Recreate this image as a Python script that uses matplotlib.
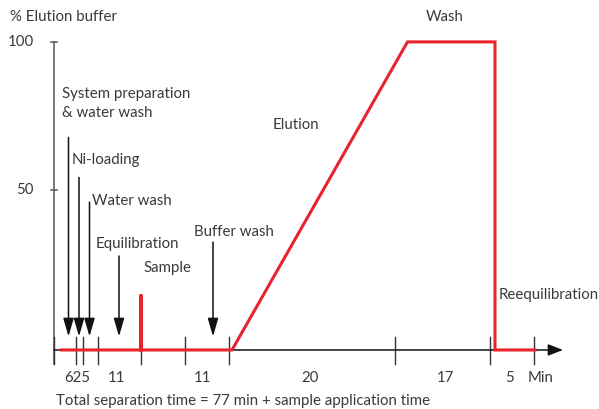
import matplotlib
matplotlib.use('Agg')
import matplotlib.pyplot as plt

plt.rcParams['font.family'] = ['Lato', 'DejaVu Sans']

# schematic time axis (not to scale), boundaries of each step
tick_pos = [0, 22, 28.5, 43.5, 87, 130.5, 174.5, 341, 436, 480]
seg_labels = ['625', '11', '11', '20', '17', '5']
seg_label_x = [23, 63, 149, 256, 391, 456]

# % elution buffer profile
profile_x = [7.5, 87, 87, 87, 178, 353.5, 441, 441, 481]
profile_y = [0, 0, 18, 0, 0, 100, 100, 0, 0]

# step arrows: x, top of arrow, label, label position
arrow_x = [14.5, 25, 35.5, 65, 159]
arrow_top = [69, 56, 48, 30.5, 35]
step_labels = ['System preparation\n& water wash', 'Ni-loading', 'Water wash',
               'Equilibration', 'Buffer wash']
step_label_xy = [(8, 80), (18, 61.6), (38, 48.3), (42, 34.3), (140, 38.4)]

other_labels = ['Sample', 'Elution', 'Wash', 'Reequilibration']
other_label_xy = [(89, 26.5), (219, 73), (372, 108), (445, 17.8)]

y_ticks = [100, 50]
y_tick_pix = [100, 52]

text_col = '#3a3a3a'
red = '#e8232b'
fs = 10.8

fig = plt.figure(figsize=(5.99, 4.09), dpi=100)
ax = fig.add_axes([0, 0, 1, 1])
ax.set_xlim(-54, 545)
ax.set_ylim(-19.16, 113.6)
ax.axis('off')

# y axis
ax.plot([0, 0], [-4.4, 100], color='#555555', lw=1.1)
for t, p in zip(y_ticks, y_tick_pix):
    ax.plot([-2.7, 2.7], [p, p], color='#555555', lw=1.1)
    ax.text(-20, p, str(t), ha='right', va='center', fontsize=fs, color=text_col)
ax.text(-44, 108.2, '% Elution buffer', ha='left', va='center', fontsize=fs, color=text_col)

# x axis with arrow
ax.annotate('', xy=(509, 0), xytext=(0, 0),
            arrowprops=dict(arrowstyle='-|>,head_length=0.9,head_width=0.35',
                            mutation_scale=10, color='#111111', lw=1.1,
                            shrinkA=0, shrinkB=0))
for p in tick_pos:
    ax.plot([p, p], [-4.4, 4.2], color='#333333', lw=1.0)
for lab, lx in zip(seg_labels, seg_label_x):
    ax.text(lx, -9, lab, ha='center', va='center', fontsize=fs, color=text_col)
ax.text(487, -9, 'Min', ha='center', va='center', fontsize=fs, color=text_col)
ax.text(2, -16.5, 'Total separation time = 77 min + sample application time',
        ha='left', va='center', fontsize=fs, color=text_col)

# elution profile
ax.plot(profile_x, profile_y, color=red, lw=2.2, solid_joinstyle='miter', zorder=3)

# step arrows
for xa, top in zip(arrow_x, arrow_top):
    ax.annotate('', xy=(xa, 4.4), xytext=(xa, top),
                arrowprops=dict(arrowstyle='-|>,head_length=1.1,head_width=0.32',
                                mutation_scale=10, color='#111111', lw=1.1,
                                shrinkA=0, shrinkB=0))
for lab, (lx, ly) in zip(step_labels, step_label_xy):
    ax.text(lx, ly, lab, ha='left', va='center', fontsize=fs, color=text_col,
            linespacing=1.5)
for lab, (lx, ly) in zip(other_labels, other_label_xy):
    ax.text(lx, ly, lab, ha='left', va='center', fontsize=fs, color=text_col)

fig.savefig('out.png', dpi=100)
